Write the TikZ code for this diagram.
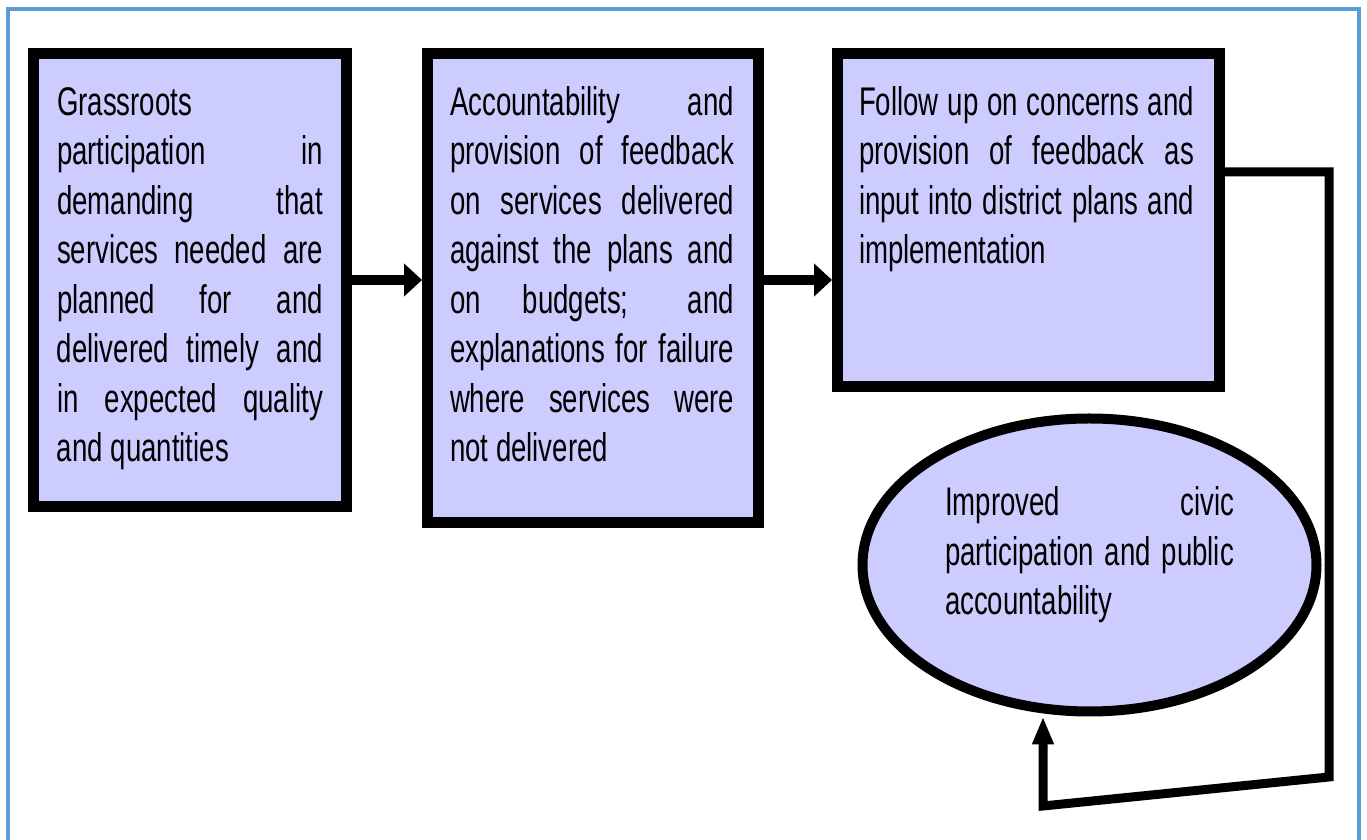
\documentclass[tikz,border=0pt]{standalone}
\usepackage{fontspec}
\setmainfont{Liberation Sans}[FakeStretch=0.69]
\usepackage{xcolor}
\usetikzlibrary{positioning,shapes.geometric,arrows.meta}

\definecolor{stagefill}{HTML}{CCCCFF}
\definecolor{frameblue}{HTML}{5B9BD5}
\setlength{\parindent}{0pt}
% one justified line of a box text
\newcommand{\jl}[1]{\makebox[\hsize][s]{\spaceskip=0pt\xspaceskip=0pt\strut #1}\\}

\tikzset{
  stage/.style={draw=black, fill=stagefill, line width=5.5pt, rectangle, inner sep=0pt},
  civicshape/.style={draw=black, fill=stagefill, line width=5pt, ellipse, inner sep=0pt},
  stagetext/.style={inner sep=0pt, outer sep=0pt, align=justify, font=\fontsize{20}{24.75}\selectfont},
  flow/.style={line width=5pt, -{Triangle[length=9pt,width=16pt]}},
  feedback/.style={line width=4.5pt, line join=miter, -{Triangle[length=14pt,width=10pt]}},
}

\begin{document}
\begin{tikzpicture}[x=1pt,y=1pt]
\useasboundingbox (0,0) rectangle (683.5,420);

\draw[frameblue, line width=2pt] (4,0) -- (4,415.25) -- (679.5,415.25) -- (679.5,0);

\node[stage, minimum width=156.5pt, minimum height=226.5pt] (grass) at (95,280) {};
\node[stage, minimum width=165.5pt, minimum height=234.5pt] (account) at (296.5,276) {};
\node[stage, minimum width=191pt, minimum height=166.5pt] (follow) at (514.25,310) {};
\node[civicshape, minimum width=227pt, minimum height=146.5pt] (civic) at (544.75,137.5) {};

\node[stagetext, text width=133pt, below right=16.2pt and 14.5pt of grass.north west] (grasstext) {%
\strut Grassroots\\
\jl{participation in}
\jl{demanding that}
\jl{services needed are}
\jl{planned for and}
\jl{delivered timely and}
\jl{in expected quality}
\spaceskip=0pt and quantities};

\node[stagetext, text width=142pt, below right=16.2pt and 14pt of account.north west] (accounttext) {%
\jl{Accountability and}
\jl{provision of feedback}
\jl{on services delivered}
\jl{against the plans and}
\jl{on budgets; and}
\jl{explanations for failure}
\jl{where services were}
\spaceskip=0pt not delivered};

\node[stagetext, text width=167.5pt, below right=16.2pt and 13.5pt of follow.north west] (followtext) {%
\jl{Follow up on concerns and}
\jl{provision of feedback as}
\jl{input into district plans and}
implementation};

\node[stagetext, text width=144.5pt, below=33.7pt of civic.north] (civictext) {%
\jl{Improved civic}
\jl{participation and public}
accountability};

\draw[flow] (grass.east) -- (grass.east -| account.west);
\draw[flow] (grass.east -| account.east) -- (grass.east -| follow.west);

\coordinate (loopright) at (664.5,31.5);
\coordinate (loopleft) at (521.5,17);
\draw[feedback] ([yshift=24pt]follow.east) -| (loopright) -- (loopleft) -- (loopleft |- civic.south);

\end{tikzpicture}
\end{document}
